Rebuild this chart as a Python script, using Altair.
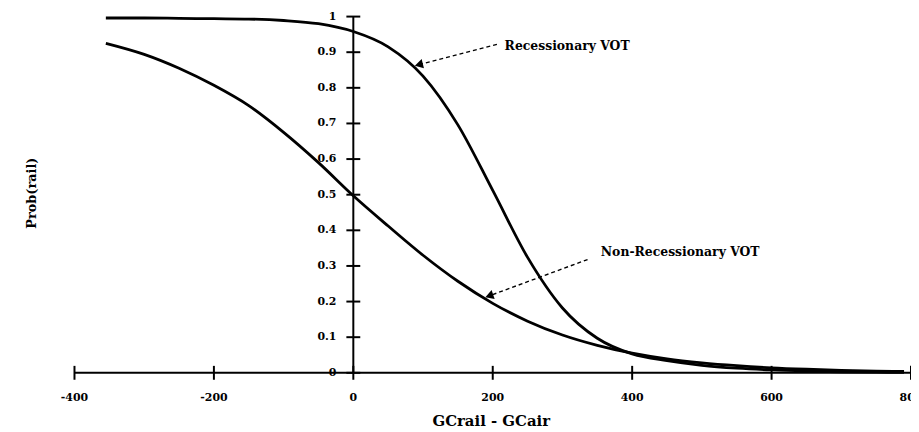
import altair as alt
import pandas as pd

# ---- data ----
x_vals = [-355, -300, -250, -200, -150, -100, -50, 0, 50, 100, 150, 200,
          250, 300, 350, 400, 450, 500, 550, 600, 650, 700, 750, 790]
recessionary = [0.996, 0.996, 0.995, 0.994, 0.993, 0.989, 0.980, 0.958, 0.915, 0.833,
                0.696, 0.512, 0.324, 0.182, 0.097, 0.053, 0.034, 0.021, 0.013, 0.008,
                0.005, 0.003, 0.002, 0.001]
non_recessionary = [0.925, 0.894, 0.855, 0.807, 0.750, 0.675, 0.590, 0.497, 0.412, 0.330,
                    0.257, 0.195, 0.145, 0.106, 0.077, 0.055, 0.039, 0.028, 0.020, 0.014,
                    0.010, 0.007, 0.005, 0.004]

x_ticks = [-400, -200, 0, 200, 400, 600, 800]
x_tick_labels = ["-400", "-200", "0", "200", "400", "600", "800"]
y_ticks = [0.0, 0.1, 0.2, 0.3, 0.4, 0.5, 0.6, 0.7, 0.8, 0.9, 1.0]
y_tick_labels = ["0", "0.1", "0.2", "0.3", "0.4", "0.5", "0.6", "0.7", "0.8", "0.9", "1"]

ann_labels = ["Recessionary VOT", "Non-Recessionary VOT"]
ann_text_x = [217, 355]
ann_text_y = [0.916, 0.340]
ann_tail_x = [206, 336]
ann_tail_y = [0.922, 0.318]
ann_head_x = [94, 195]
ann_head_y = [0.865, 0.216]
ann_angle = [256, 251]

x_title = "GCrail - GCair"
y_title = "Prob(rail)"

# ---- tables ----
curves = pd.DataFrame({
    "x": x_vals * 2,
    "p": recessionary + non_recessionary,
    "series": ["Recessionary VOT"] * len(x_vals) + ["Non-Recessionary VOT"] * len(x_vals),
})
xt = pd.DataFrame({"x": x_ticks, "label": x_tick_labels, "y": [0] * len(x_ticks)})
yt = pd.DataFrame({"y": y_ticks, "label": y_tick_labels, "x": [0] * len(y_ticks)})
ann = pd.DataFrame({
    "label": ann_labels, "tx": ann_text_x, "ty": ann_text_y,
    "x1": ann_tail_x, "y1": ann_tail_y, "xh": ann_head_x, "yh": ann_head_y,
})
axis_lines = pd.DataFrame({"xa": [-400, 0], "xb": [800, 0], "ya": [0, 0], "yb": [0, 1]})

xs = alt.Scale(domain=[-400, 800], nice=False, zero=False)
ys = alt.Scale(domain=[0, 1], nice=False, zero=False)
FONT = "DejaVu Serif"

lines = alt.Chart(curves).mark_line(color="black", strokeWidth=2.8, interpolate="monotone").encode(
    x=alt.X("x:Q", scale=xs, axis=None),
    y=alt.Y("p:Q", scale=ys, axis=None),
    detail="series:N",
)

axes = alt.Chart(axis_lines).mark_rule(color="black", strokeWidth=2).encode(
    x=alt.X("xa:Q", scale=xs, axis=None), x2="xb:Q",
    y=alt.Y("ya:Q", scale=ys, axis=None), y2="yb:Q",
)

xticks = alt.Chart(xt).mark_point(shape="M0,-1L0,1", filled=False, color="black",
                                  size=196, strokeWidth=2, opacity=1).encode(
    x=alt.X("x:Q", scale=xs, axis=None), y=alt.Y("y:Q", scale=ys, axis=None)
)
yticks = alt.Chart(yt).mark_point(shape="M-1,0L1,0", filled=False, color="black",
                                  size=196, strokeWidth=2, opacity=1).encode(
    x=alt.X("x:Q", scale=xs, axis=None), y=alt.Y("y:Q", scale=ys, axis=None)
)

xlabels = alt.Chart(xt).mark_text(font=FONT, fontWeight="bold", fontSize=11,
                                  baseline="middle", align="center").encode(
    x=alt.X("x:Q", scale=xs, axis=None), y=alt.value(384), text="label:N"
)
ylabels = alt.Chart(yt).mark_text(font=FONT, fontWeight="bold", fontSize=11,
                                  baseline="middle", align="right", dx=-17).encode(
    x=alt.X("x:Q", scale=xs, axis=None), y=alt.Y("y:Q", scale=ys, axis=None), text="label:N"
)

xtitle = alt.Chart(pd.DataFrame({"t": [x_title]})).mark_text(
    font=FONT, fontWeight="bold", fontSize=15, baseline="middle", align="center"
).encode(x=alt.value(420), y=alt.value(408), text="t:N")

ytitle = alt.Chart(pd.DataFrame({"t": [y_title]})).mark_text(
    font=FONT, fontWeight="bold", fontSize=13, baseline="middle", align="center", angle=270
).encode(x=alt.value(-43), y=alt.value(178), text="t:N")

arrows = alt.Chart(ann).mark_rule(color="black", strokeWidth=1.4, strokeDash=[4, 3]).encode(
    x=alt.X("x1:Q", scale=xs, axis=None), y=alt.Y("y1:Q", scale=ys, axis=None),
    x2="xh:Q", y2="yh:Q",
)

heads = []
for i in range(len(ann_labels)):
    heads.append(
        alt.Chart(ann.iloc[[i]]).mark_point(shape="triangle-up", filled=True, color="black",
                                            size=90, opacity=1, angle=ann_angle[i]).encode(
            x=alt.X("xh:Q", scale=xs, axis=None), y=alt.Y("yh:Q", scale=ys, axis=None)
        )
    )

ann_text = alt.Chart(ann).mark_text(font=FONT, fontWeight="bold", fontSize=12.5,
                                    baseline="middle", align="left").encode(
    x=alt.X("tx:Q", scale=xs, axis=None), y=alt.Y("ty:Q", scale=ys, axis=None), text="label:N"
)

chart = alt.layer(
    axes, xticks, yticks, lines, xlabels, ylabels, xtitle, ytitle, arrows, *heads, ann_text
).properties(
    width=843, height=359,
    padding={"left": 67, "top": 7, "right": 0, "bottom": 58},
    autosize=alt.AutoSizeParams(type="none"),
    background="white",
).configure_view(stroke=None)

chart.save("out.html", embed_options={"renderer": "svg", "actions": False})
